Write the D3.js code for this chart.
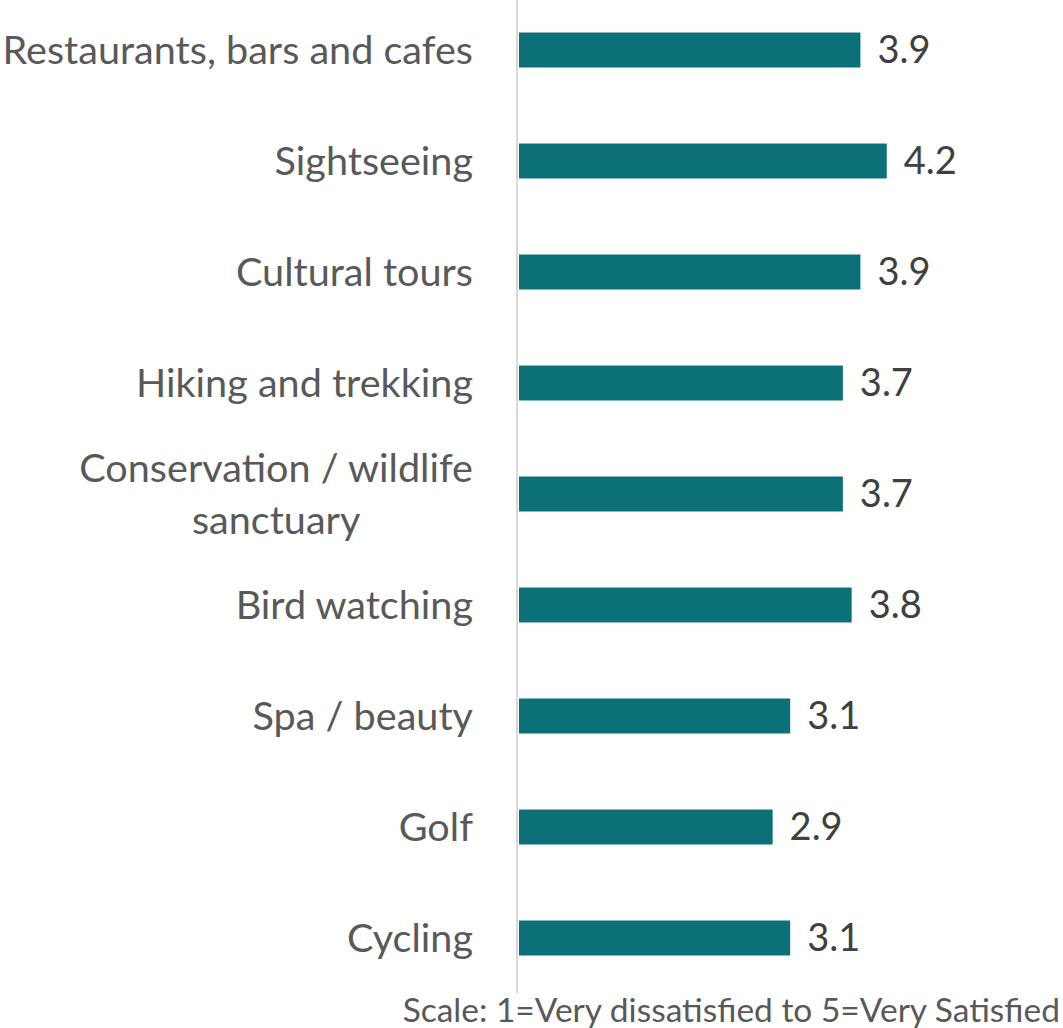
<!DOCTYPE html>
<html>
<head>
<meta charset="utf-8">
<script src="https://cdn.jsdelivr.net/npm/d3@7/dist/d3.min.js"></script>
<style>
  html, body { margin: 0; padding: 0; background: #ffffff; }
  svg { display: block; }
  text { font-family: Lato, "Open Sans", sans-serif; }
</style>
</head>
<body>
<script>
// Activity satisfaction scores (1 = very dissatisfied, 5 = very satisfied)
const categories = [
  ["Restaurants, bars and cafes"],
  ["Sightseeing"],
  ["Cultural tours"],
  ["Hiking and trekking"],
  ["Conservation / wildlife", "sanctuary"],
  ["Bird watching"],
  ["Spa / beauty"],
  ["Golf"],
  ["Cycling"]
];
const scores = [3.9, 4.2, 3.9, 3.7, 3.7, 3.8, 3.1, 2.9, 3.1];
const footnote = "Scale: 1=Very dissatisfied to 5=Very Satisfied";

const W = 1063, H = 1028;
const axisX = 518;

const svg = d3.select("body").append("svg")
  .attr("width", W).attr("height", H);

const rows = categories.map((lines, i) => ({ key: i, lines, value: scores[i] }));

const y = d3.scaleBand()
  .domain(rows.map(d => d.key))
  .range([-5.5, 993.5])
  .paddingInner(0.685)
  .paddingOuter(0.3425);

const x = d3.scaleLinear().domain([0, 5]).range([axisX, axisX + 439]);

// bars
svg.append("g").selectAll("rect")
  .data(rows)
  .join("rect")
  .attr("x", x(0) + 1)
  .attr("y", d => y(d.key))
  .attr("width", d => x(d.value) - x(0) - 1)
  .attr("height", y.bandwidth())
  .attr("fill", "#0b7078");

// category axis line
svg.append("line")
  .attr("x1", axisX - 1).attr("x2", axisX - 1)
  .attr("y1", 0).attr("y2", 993)
  .attr("stroke", "#d9d9d9").attr("stroke-width", 2);

// category labels (multi-line labels are centred on each other, block right-aligned)
const labelRight = 473;
const lineH = 52;
const labelG = svg.append("g");
rows.forEach(d => {
  const cy = y(d.key) + y.bandwidth() / 2;
  const g = labelG.append("g");
  const n = d.lines.length;
  const texts = d.lines.map((ln, j) => g.append("text")
    .attr("y", cy + (j - (n - 1) / 2) * lineH)
    .attr("dy", "0.35em")
    .attr("font-size", 39.6)
    .attr("fill", "#595959")
    .text(ln));
  const widths = texts.map(t => t.node().getComputedTextLength());
  const maxW = d3.max(widths);
  texts.forEach(t => {
    t.attr("x", labelRight - maxW / 2).attr("text-anchor", "middle");
  });
});

// value labels
svg.append("g").selectAll("text")
  .data(rows)
  .join("text")
  .attr("x", d => x(d.value) + 17)
  .attr("y", d => y(d.key) + y.bandwidth() / 2)
  .attr("dy", "0.35em")
  .attr("font-size", 38)
  .attr("fill", "#404040")
  .text(d => d3.format(".1f")(d.value));

// footnote
svg.append("text")
  .attr("x", 1060)
  .attr("y", 1022)
  .attr("text-anchor", "end")
  .attr("font-size", 33.5)
  .attr("fill", "#595959")
  .text(footnote);
</script>
</body>
</html>
